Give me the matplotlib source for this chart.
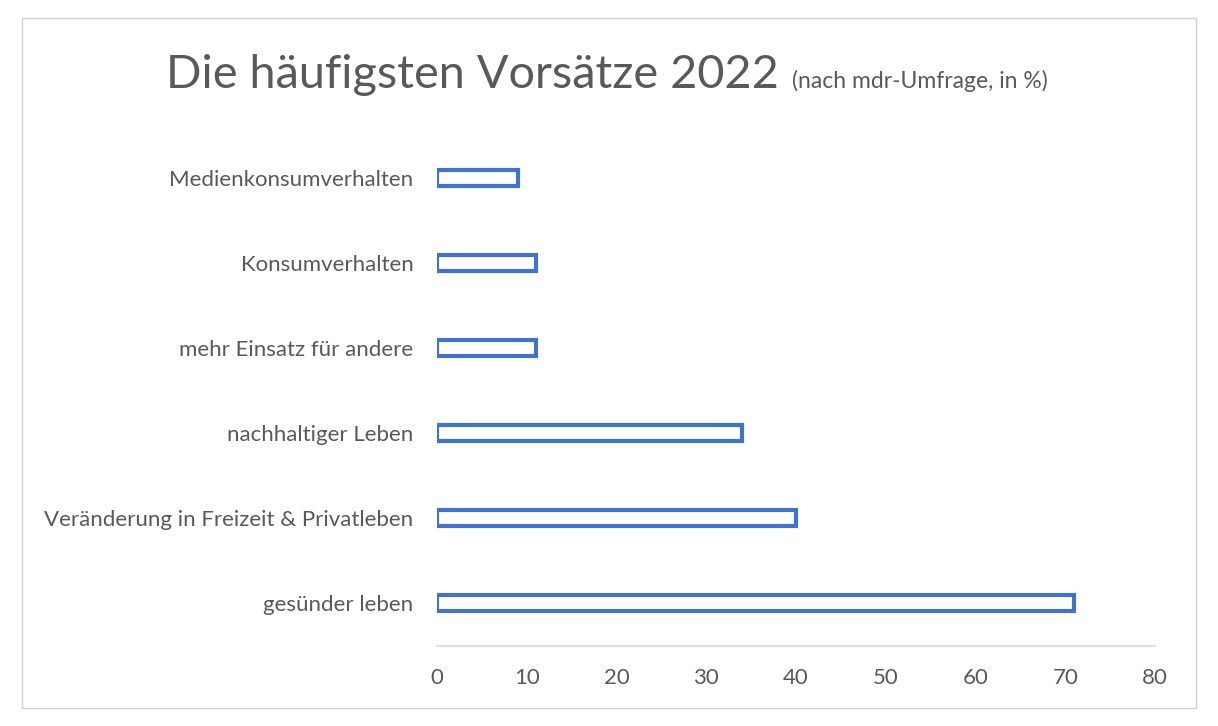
import matplotlib.pyplot as plt
from matplotlib.patches import Rectangle

plt.rcParams['font.family'] = ['Lato', 'DejaVu Sans']

categories = ['gesünder leben', 'Veränderung in Freizeit & Privatleben', 'nachhaltiger Leben',
              'mehr Einsatz für andere', 'Konsumverhalten', 'Medienkonsumverhalten']
values = [71, 40, 34, 11, 11, 9]
xticks = [0, 10, 20, 30, 40, 50, 60, 70, 80]

grey = '#595959'
blue = '#4472C4'

fig = plt.figure(figsize=(12.18, 7.26), dpi=100)
ax = fig.add_axes([437 / 1218, 1 - 645.5 / 726, (1155 - 437) / 1218, 510 / 726])

ax.barh(range(len(categories)), values, height=0.18, facecolor='white',
        edgecolor=blue, linewidth=3)

ax.set_xlim(0, 80)
ax.set_ylim(-0.5, len(categories) - 0.5)
ax.set_xticks(xticks)
ax.set_yticks(range(len(categories)))
ax.set_yticklabels(categories)
ax.tick_params(axis='both', length=0, labelsize=16, labelcolor=grey)
ax.tick_params(axis='y', pad=17)
ax.tick_params(axis='x', pad=16)

for side in ['top', 'right', 'left']:
    ax.spines[side].set_visible(False)
ax.spines['bottom'].set_color('#d9d9d9')
ax.spines['bottom'].set_linewidth(1.2)

fig.text(166 / 1218, 1 - 88 / 726, 'Die häufigsten Vorsätze 2022', fontsize=33.7,
         color=grey, va='baseline', ha='left')
fig.text(792 / 1218, 1 - 88 / 726, '(nach mdr-Umfrage, in %)', fontsize=16.5,
         color=grey, va='baseline', ha='left')

fig.patches.append(Rectangle((22 / 1218, 1 - 708 / 726), 1174 / 1218, 690 / 726,
                             transform=fig.transFigure, fill=False,
                             edgecolor='#d0d0d0', linewidth=1))

fig.savefig('out.png', dpi=100)
